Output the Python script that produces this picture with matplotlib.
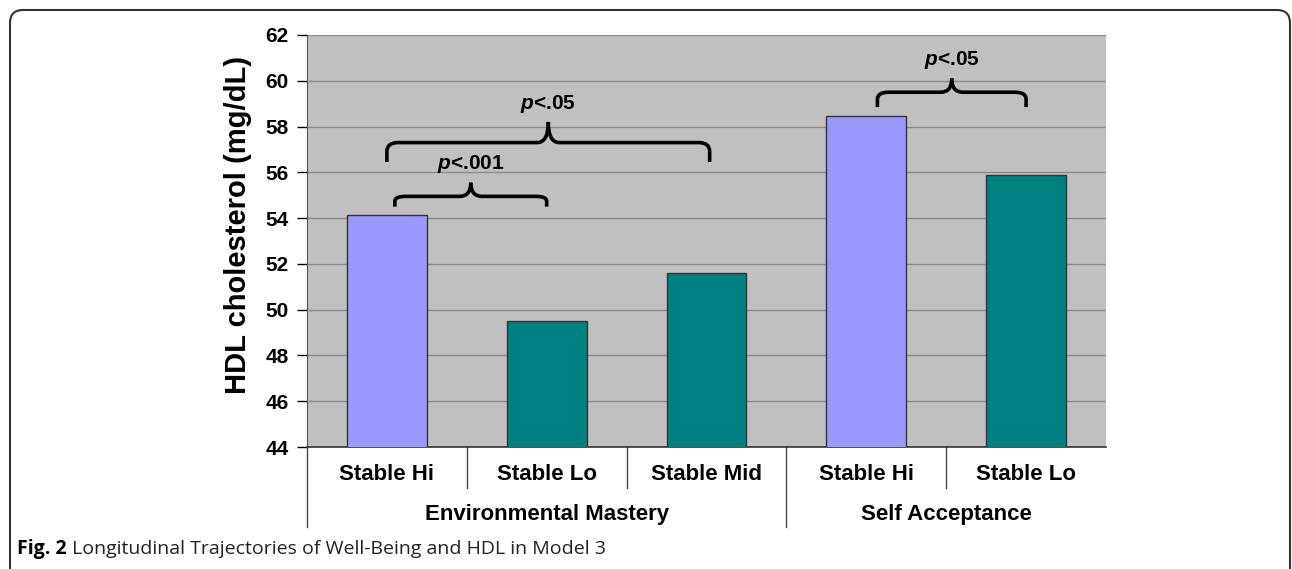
import matplotlib.pyplot as plt
from matplotlib.path import Path
from matplotlib.patches import PathPatch, FancyBboxPatch

plt.rcParams["font.family"] = ["Liberation Sans", "DejaVu Sans"]
plt.rcParams["mathtext.fontset"] = "custom"
plt.rcParams["mathtext.it"] = "Liberation Sans:italic:bold"

# data
categories = ["Stable Hi", "Stable Lo", "Stable Mid", "Stable Hi", "Stable Lo"]
groups = ["Environmental Mastery", "Self Acceptance"]
group_sizes = [3, 2]
hdl = [54.15, 49.5, 51.6, 58.45, 55.9]
bar_colors = ["#9999FF", "#008080", "#008080", "#9999FF", "#008080"]

# significance brackets: (left bar, right bar, bracket level, label)
brackets = [
    (0, 1, 54.95, "$p$<.001"),
    (0, 2, 57.3, "$p$<.05"),
    (3, 4, 59.5, "$p$<.05"),
]


def brace(ax, x0, x1, y, leg, tip):
    # curly brace: two halves meeting at the centre tip
    xm = (x0 + x1) / 2
    c = 0.07
    r = leg * 0.45
    path1 = Path([(x0, y - leg), (x0, y - r), (x0, y), (x0 + c, y),
                  (xm - c, y), (xm, y), (xm, y + tip)],
                 [Path.MOVETO, Path.LINETO, Path.CURVE3, Path.CURVE3,
                  Path.LINETO, Path.CURVE3, Path.CURVE3])
    path2 = Path([(xm, y + tip), (xm, y), (xm + c, y),
                  (x1 - c, y), (x1, y), (x1, y - r), (x1, y - leg)],
                 [Path.MOVETO, Path.CURVE3, Path.CURVE3,
                  Path.LINETO, Path.CURVE3, Path.CURVE3, Path.LINETO])
    for p in (path1, path2):
        ax.add_patch(PathPatch(p, fill=False, lw=2.6, edgecolor="black",
                               capstyle="butt", joinstyle="round"))


fig = plt.figure(figsize=(12.92, 5.69), dpi=100)
ax = fig.add_axes([0.2376, 0.2144, 0.856 - 0.2376, 0.9385 - 0.2144])

x = list(range(len(categories)))
ax.bar(x, hdl, width=0.5, bottom=0, color=bar_colors, edgecolor="#333333",
       linewidth=1.0, zorder=3)

ax.set_facecolor("#C0C0C0")
ax.set_xlim(-0.5, len(categories) - 0.5)
ax.set_ylim(44, 62)
ax.set_yticks(range(44, 63, 2))
ax.yaxis.grid(True, color="#8a8a8a", lw=1.0, zorder=0)
ax.set_axisbelow(True)
ax.tick_params(axis="y", direction="out", length=7, width=1, labelsize=15,
               pad=6)
for lab in ax.get_yticklabels():
    lab.set_fontweight("bold")
ax.set_xticks([])
ax.spines["top"].set_visible(False)
ax.spines["right"].set_visible(False)
ax.spines["left"].set_color("#555555")
ax.spines["bottom"].set_color("#333333")
ax.spines["bottom"].set_linewidth(1.2)
ax.set_ylabel("HDL cholesterol (mg/dL)", fontsize=21, fontweight="bold")
ax.yaxis.set_label_coords(-0.069, 0.54)

# category + group labels below the axis
tr = ax.get_xaxis_transform()
for i, cat in enumerate(categories):
    ax.text(i, -0.066, cat, transform=tr, ha="center", va="center",
            fontsize=16, fontweight="bold")
start = 0
for g, n in zip(groups, group_sizes):
    ax.text(start + (n - 1) / 2, -0.163, g, transform=tr, ha="center",
            va="center", fontsize=16, fontweight="bold")
    start += n
# separators
bounds = [0]
for n in group_sizes:
    bounds.append(bounds[-1] + n)
for b in range(len(categories)):
    bottom = -0.194 if b in bounds else -0.0995
    ax.plot([b - 0.5, b - 0.5], [0, bottom], transform=tr, color="#444444",
            lw=1, clip_on=False)

# significance braces
for i, j, level, label in brackets:
    span = j - i
    leg = 0.45 if span == 1 else 0.85
    tip = 0.6 if span == 1 else 0.9
    if i == 3:
        leg = 0.65
    x0 = i + (0.05 if (i, j) == (0, 1) else 0.0) + (0.07 if i == 3 else 0)
    x1 = j + (0.02 if (i, j) == (0, 2) else 0.0)
    brace(ax, x0, x1, level, leg, tip)
    ax.text((x0 + x1) / 2, level + tip + 0.8, label, ha="center",
            va="center", fontsize=15, fontweight="bold")

# rounded frame around figure
frame = FancyBboxPatch((0.10, -1.0), 12.80, 6.59,
                       boxstyle="round,pad=0,rounding_size=0.13",
                       transform=fig.dpi_scale_trans, fill=False,
                       edgecolor="#333333", lw=1.5, clip_on=False)
fig.patches.append(frame)

# caption
t1 = fig.text(17 / 1292, 1 - 549 / 569, "Fig. 2", fontsize=14,
              fontweight="bold", ha="left", va="center",
              family=["Open Sans", "DejaVu Sans"])
ax.annotate(" Longitudinal Trajectories of Well-Being and HDL in Model 3",
            xy=(1, 0.5), xycoords=t1, ha="left", va="center", fontsize=14,
            color="#222222", family=["Liberation Sans Narrow", "Open Sans"],
            annotation_clip=False)

fig.savefig("out.png", dpi=100)
